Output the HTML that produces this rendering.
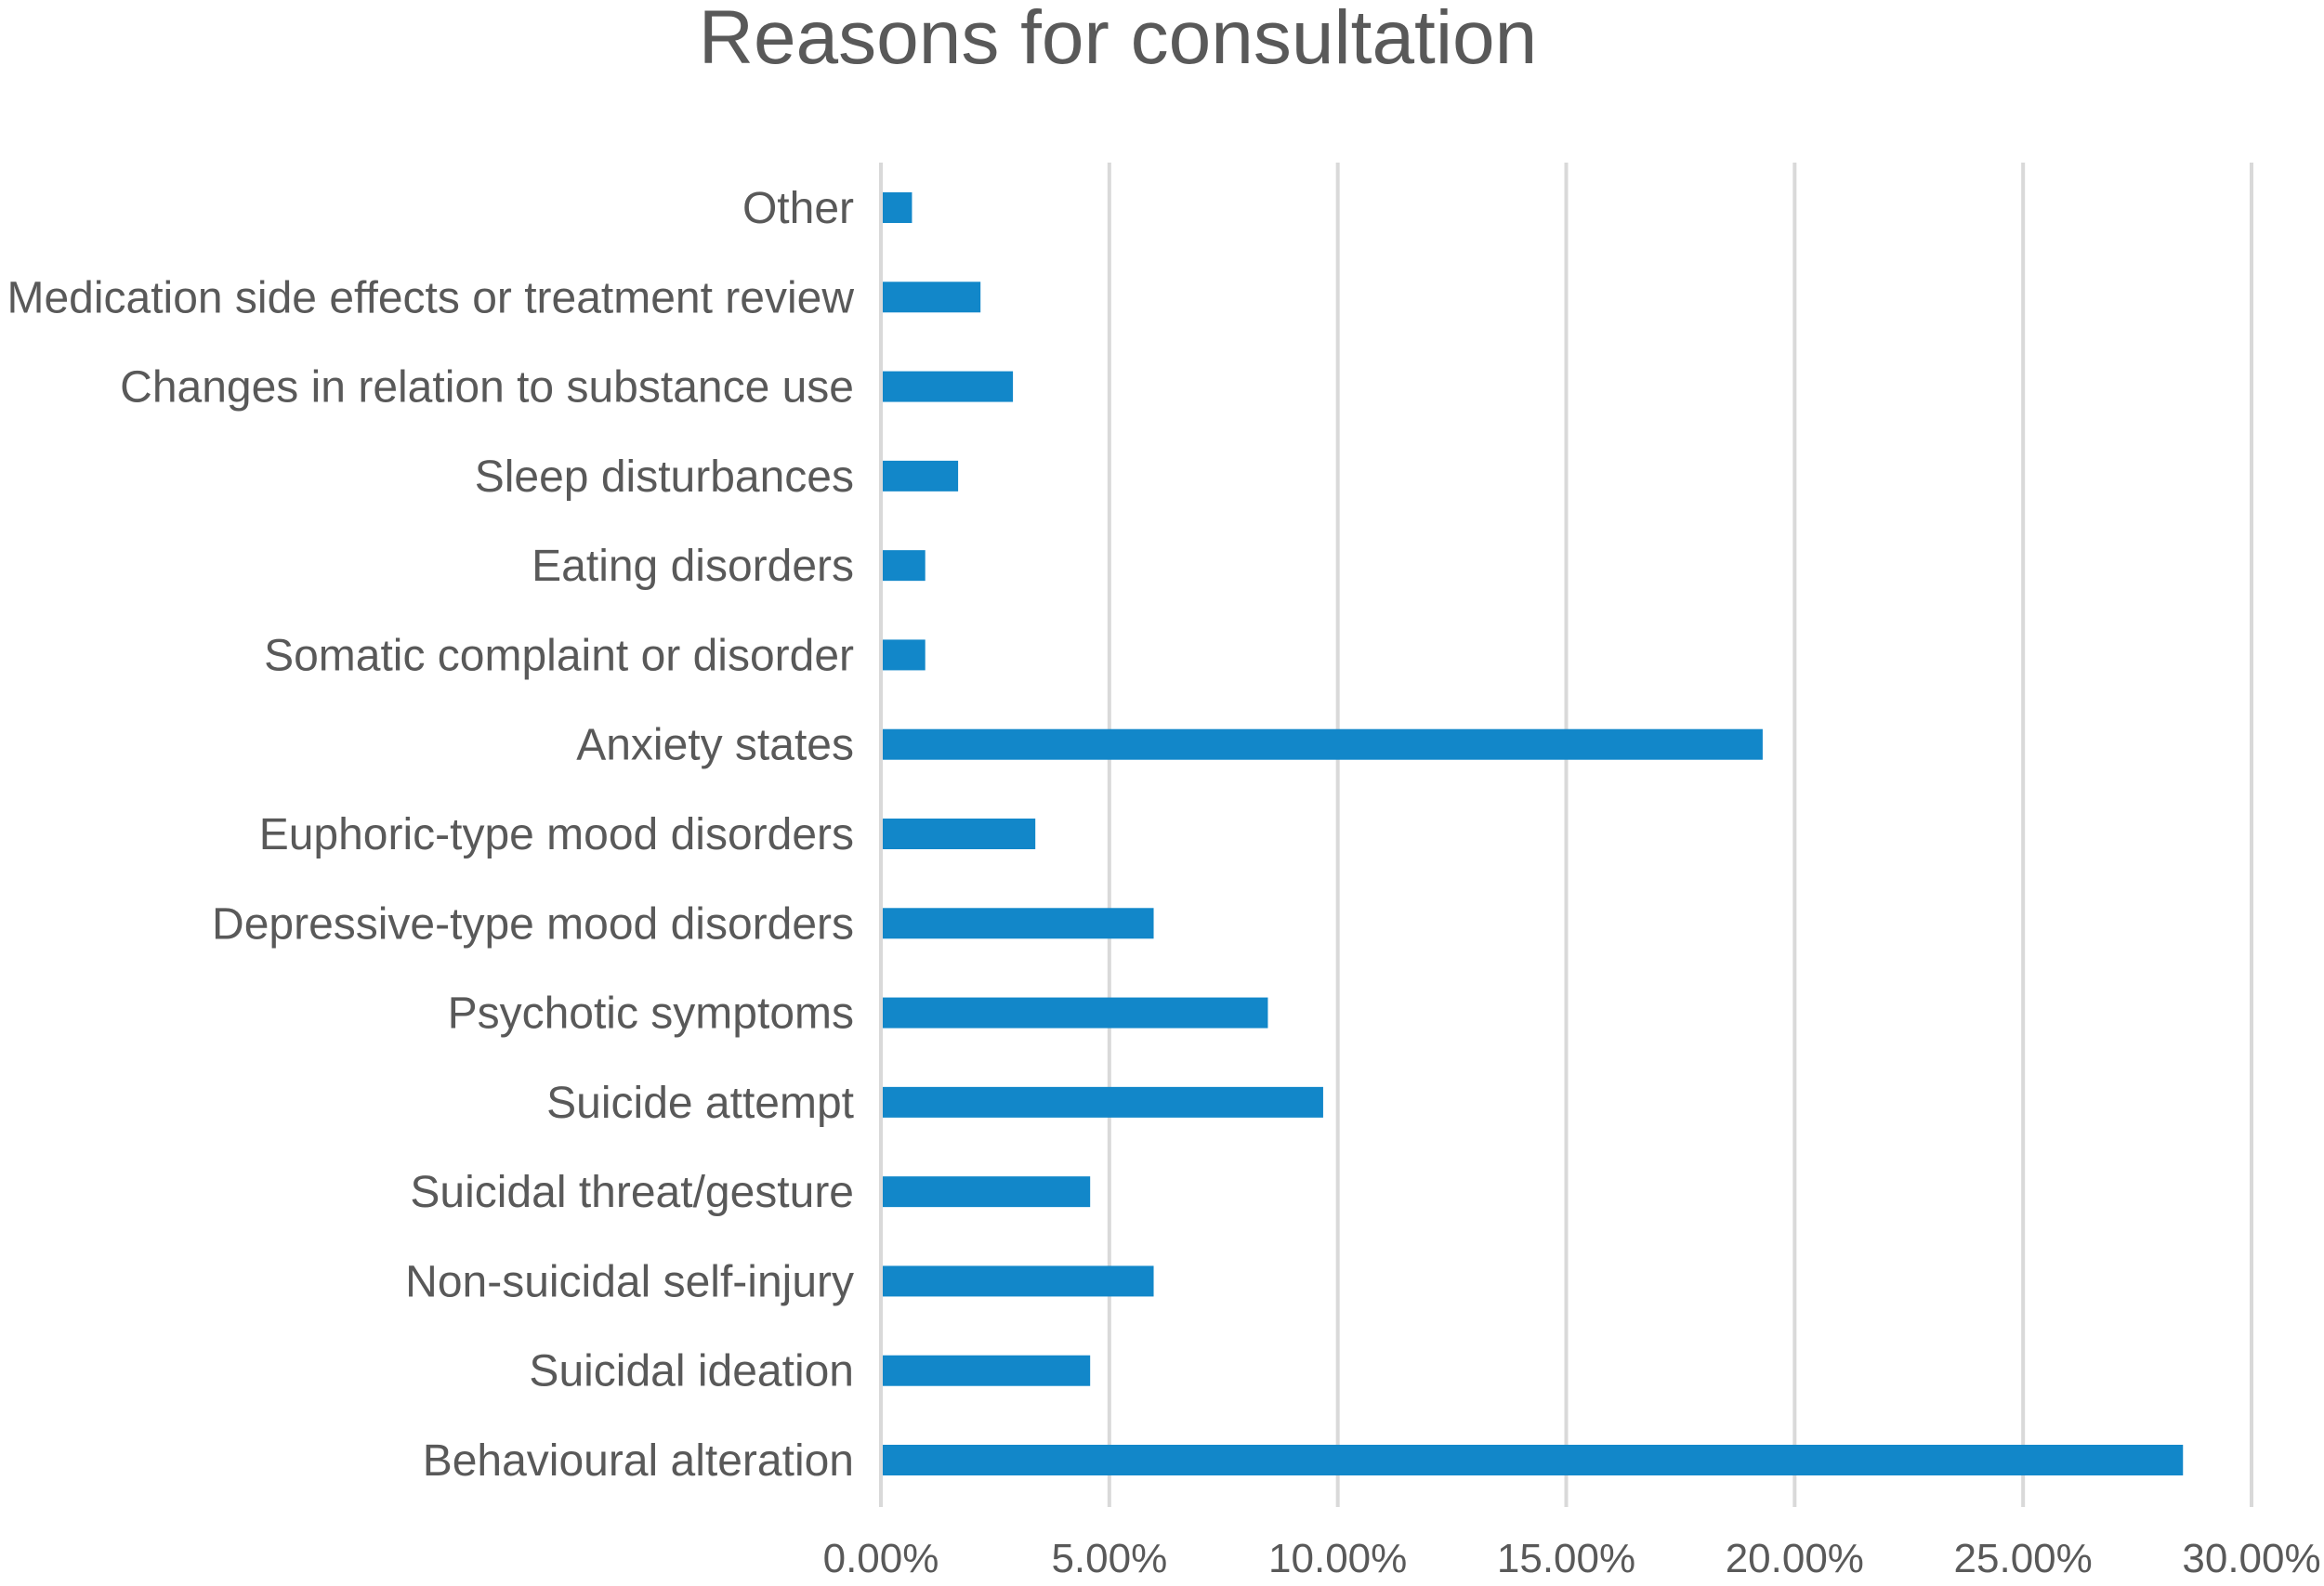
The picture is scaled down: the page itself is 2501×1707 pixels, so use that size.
<!DOCTYPE html>
<html><head><meta charset="utf-8"><style>
html,body{margin:0;padding:0;background:#fff;}
svg{display:block;font-family:"Liberation Sans",Arial,sans-serif;}
</style></head><body>
<svg id="chart" width="2501" height="1707" viewBox="0 0 2501 1707">
<text x="1203" y="68" text-anchor="middle" font-size="82" fill="#595959">Reasons for consultation</text>
<g id="grid"></g>
<g id="bars"></g>
<g id="ylabels"></g>
<g id="xlabels"></g>
</svg>
<script>
const categories = ["Other","Medication side effects or treatment review","Changes in relation to substance use","Sleep disturbances","Eating disorders","Somatic complaint or disorder","Anxiety states","Euphoric-type mood disorders","Depressive-type mood disorders","Psychotic symptoms","Suicide attempt","Suicidal threat/gesture","Non-suicidal self-injury","Suicidal ideation","Behavioural alteration"];
const values = [0.68,2.18,2.89,1.69,0.97,0.97,19.3,3.38,5.97,8.47,9.68,4.58,5.97,4.58,28.5];
const ticks = [0,5,10,15,20,25,30];
const tickLabels = ["0.00%","5.00%","10.00%","15.00%","20.00%","25.00%","30.00%"];

const NS="http://www.w3.org/2000/svg";
const X0=948, X1=2423, XMAX=30;
const Y0=223, Y1=1571;
const xScale=v=>X0+(v/XMAX)*(X1-X0);
const yScale=i=>Y0+i*(Y1-Y0)/(categories.length-1);
function mk(tag,attrs,parent){const e=document.createElementNS(NS,tag);for(const k in attrs)e.setAttribute(k,attrs[k]);parent.appendChild(e);return e;}
const grid=document.getElementById('grid'),bars=document.getElementById('bars'),yl=document.getElementById('ylabels'),xl=document.getElementById('xlabels');
ticks.forEach((t,i)=>{
  const x=xScale(t);
  const l=mk('line',{x1:x,x2:x,y1:175,y2:1622,stroke:'#d9d9d9','stroke-width':4},grid);
  
  
  const tx=mk('text',{x:x,y:1692,'text-anchor':'middle','font-size':44,fill:'#595959'},xl);
  tx.textContent=tickLabels[i];
  
  
});
categories.forEach((c,i)=>{
  const y=yScale(i);
  const r=mk('rect',{x:X0+2,y:y-16,width:xScale(values[i])-X0-2,height:33,fill:'#1287c9'},bars);
  
  
  const t=mk('text',{x:919,y:y+17,'text-anchor':'end','font-size':48,fill:'#595959'},yl);
  t.textContent=c;
  
  
});
</script>
</body></html>
